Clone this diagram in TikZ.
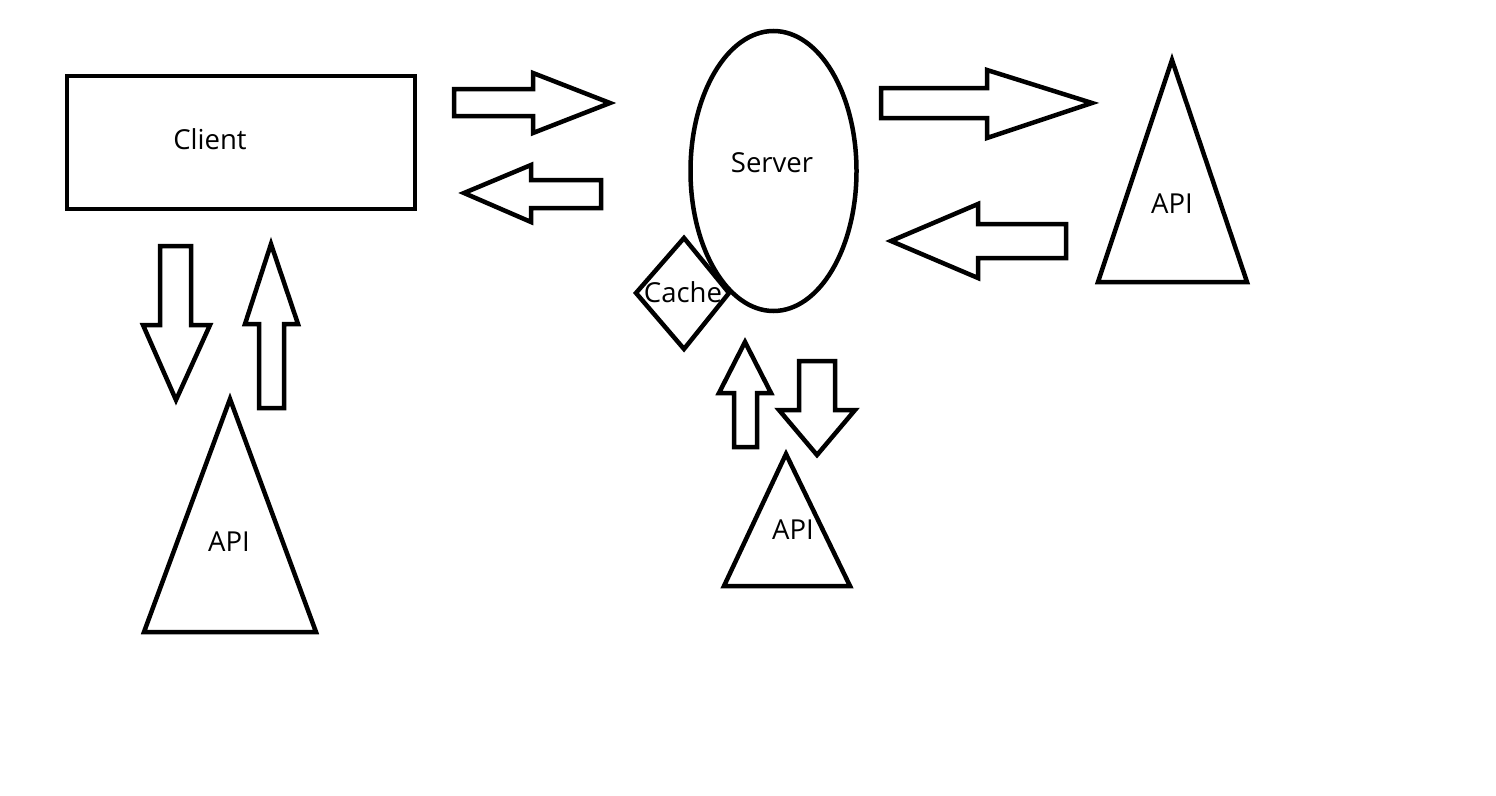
\documentclass[tikz,border=0pt]{standalone}
\usepackage{fontspec}
\setmainfont{Open Sans}
\usetikzlibrary{shapes.geometric}
\begin{document}
\begin{tikzpicture}[x=1pt,y=-1pt,line width=4.5pt,line join=miter,
		lbl/.style={font=\fontsize{27.5}{32}\selectfont,inner sep=0pt},
		blk/.style={draw=black,line width=4.5pt}]
		\useasboundingbox (0,0) rectangle (1496,795);
		% client box
		\draw[blk] (67,76) rectangle (415,209);
		\node[lbl] (client) at (210,139) {Client};
		% server and cache
		\draw[blk] (773.5,171) ellipse [x radius=83, y radius=140];
		\node[lbl] (server) at (772,163) {Server};
		\draw[blk] (684,238) -- (636,293) -- (684,349) -- (729,293) -- cycle;
		\node[lbl] (cache) at (683,292) {Cache};
		% apis
		\draw[blk] (1172,60) -- (1247,282) -- (1098,282) -- cycle;
		\node[lbl] (apiright) at (1172,204) {API};
		\draw[blk] (230,399) -- (316,632) -- (144,632) -- cycle;
		\node[lbl] (apileft) at (229,542) {API};
		\draw[blk] (786,454) -- (850,586) -- (724,586) -- cycle;
		\node[lbl] (apibottom) at (793,530) {API};
		% block arrows client <-> server
		\draw[blk] (454,89) -- (533,89) -- (533,73) -- (610,103) -- (533,133) -- (533,116) -- (454,116) -- cycle;
		\draw[blk] (464,193) -- (531,165) -- (531,180) -- (601,180) -- (601,208) -- (531,208) -- (531,222) -- cycle;
		% server <-> api
		\draw[blk] (881,88) -- (987,88) -- (987,70) -- (1092,103) -- (987,138) -- (987,118) -- (881,118) -- cycle;
		\draw[blk] (891,241) -- (978,204) -- (978,224) -- (1066,224) -- (1066,258) -- (978,258) -- (978,278) -- cycle;
		% client <-> api
		\draw[blk] (160,246) -- (191,246) -- (191,325) -- (210,325) -- (176,400) -- (143,325) -- (160,325) -- cycle;
		\draw[blk] (271,244) -- (298,324) -- (284,324) -- (284,408) -- (259,408) -- (259,324) -- (245,324) -- cycle;
		% cache <-> api
		\draw[blk] (745,342) -- (771,393) -- (757,393) -- (757,447) -- (734,447) -- (734,393) -- (719,393) -- cycle;
		\draw[blk] (799,361) -- (835,361) -- (835,410) -- (855,410) -- (817,455) -- (779,410) -- (799,410) -- cycle;
	\end{tikzpicture}
\end{document}
